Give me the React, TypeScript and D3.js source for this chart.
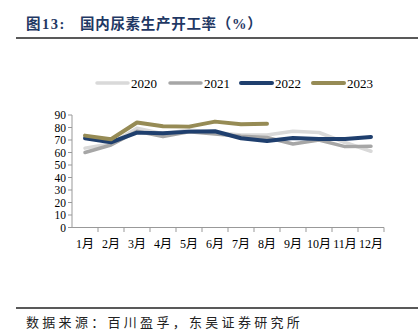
import React from "react";
import * as d3 from "d3";

const months = ["1月", "2月", "3月", "4月", "5月", "6月", "7月", "8月", "9月", "10月", "11月", "12月"];
const yTicks = [0, 10, 20, 30, 40, 50, 60, 70, 80, 90];
const s2020 = [63.5, 67, 79.5, 75, 78, 76, 74, 74, 77, 76, 68, 61];
const s2021 = [60, 66, 77, 72.7, 76.5, 74.8, 73, 72, 66.8, 70, 64.7, 65];
const s2022 = [71.4, 68.2, 75.9, 75.4, 76.7, 77, 71.4, 69.2, 71.6, 70.8, 70.8, 72.4];
const s2023 = [73.5, 70.6, 84, 81, 80.7, 84.7, 82.6, 83];
const seriesNames = ["2020", "2021", "2022", "2023"];
const colors = ["#d9d9d9", "#a6a6a6", "#1f3f6e", "#968b55"];
const widths = [3.5, 3.5, 4, 4];

export default function App() {
  const W = 418, H = 331;
  const x = d3.scaleBand<string>().domain(months).range([72, 384]);
  const y = d3.scaleLinear().domain([0, 90]).range([227.5, 115]);
  const data = [s2020, s2021, s2022, s2023];
  const line = d3
    .line<number>()
    .x((_, i) => (x(months[i]) as number) + x.bandwidth() / 2)
    .y((d) => y(d));
  const serif = "'Liberation Serif', 'Times New Roman', 'Noto Sans CJK SC', serif";
  const legendX = [97, 170, 241, 313];
  return (
    <svg width={W} height={H} style={{ position: "absolute", left: 0, top: 0 }}>
      <rect width={W} height={H} fill="#fff" />
      <text x={26} y={29} fontFamily={"'Liberation Serif', 'Noto Sans CJK SC', serif"} fontWeight="bold" fontSize={14.5} fill="#1f3864">
        <tspan letterSpacing={1.5}>图13:</tspan>
        <tspan x={80} letterSpacing={0.7}>国内尿素生产开工率（%）</tspan>
      </text>
      <line x1={16} x2={418} y1={38} y2={38} stroke="#222" strokeWidth={1.5} />
      {seriesNames.map((n, i) => (
        <g key={n}>
          <line x1={legendX[i]} x2={legendX[i] + 31} y1={83} y2={83} stroke={colors[i]} strokeWidth={widths[i]} strokeLinecap="round" />
          <text x={legendX[i] + 34} y={87.5} fontFamily={serif} fontSize={13} fill="#000">
            {n}
          </text>
        </g>
      ))}
      <line x1={72} x2={72} y1={115} y2={227.5} stroke="#999" />
      <line x1={72} x2={384} y1={227.5} y2={227.5} stroke="#999" />
      {yTicks.map((t) => (
        <g key={t}>
          <line x1={68} x2={72} y1={y(t)} y2={y(t)} stroke="#999" />
          <text x={66} y={y(t) + 4} textAnchor="end" fontFamily={serif} fontSize={11.5} fill="#000">
            {t}
          </text>
        </g>
      ))}
      {months.map((m, i) => (
        <g key={m}>
          <line x1={72 + x.step() * (i + 1)} x2={72 + x.step() * (i + 1)} y1={227.5} y2={232} stroke="#999" />
          <text x={(x(m) as number) + x.bandwidth() / 2} y={248} textAnchor="middle" fontFamily={serif} fontSize={12} fill="#000">
            {m}
          </text>
        </g>
      ))}
      {data.map((d, i) => (
        <path key={i} d={line(d) as string} fill="none" stroke={colors[i]} strokeWidth={widths[i]} strokeLinejoin="round" strokeLinecap="round" />
      ))}
      <line x1={16} x2={418} y1={308} y2={308} stroke="#222" strokeWidth={1.5} />
      <text x={26} y={327} fontFamily={"'Noto Sans CJK SC', sans-serif"} fontSize={13} fill="#222" letterSpacing={3.3}>
        数据来源：百川盈孚，东吴证券研究所
      </text>
    </svg>
  );
}
